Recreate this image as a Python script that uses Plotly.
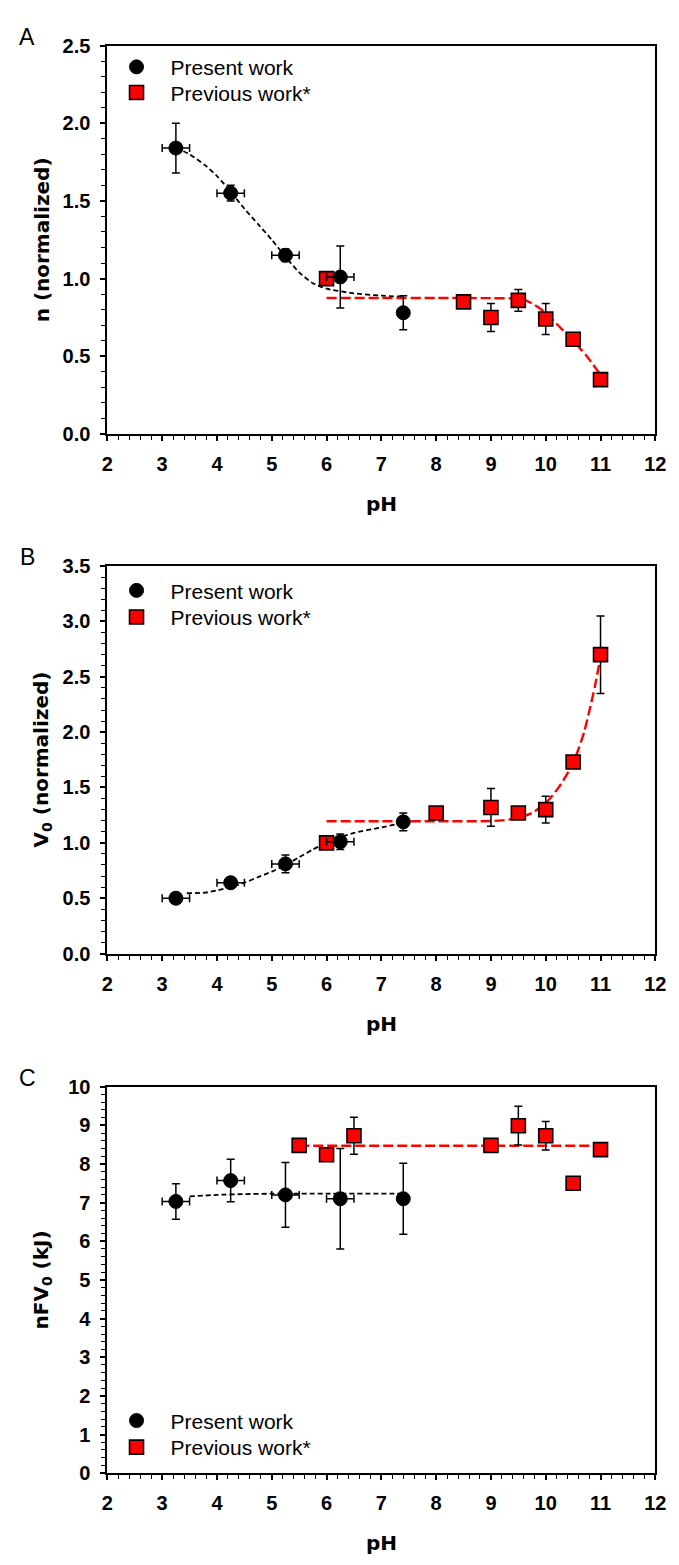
import plotly.graph_objects as go

W, H = 679, 1565

# ---------------- data ----------------
# Panel A : n (normalized)
A_present_ph = [3.25, 4.25, 5.25, 6.25, 7.40]
A_present_n = [1.84, 1.55, 1.15, 1.01, 0.78]
A_present_nerr = [0.16, 0.05, 0.04, 0.20, 0.11]
A_present_pherr = [0.25, 0.25, 0.25, 0.25, 0.0]
A_prev_ph = [6.0, 8.5, 9.0, 9.5, 10.0, 10.5, 11.0]
A_prev_n = [1.00, 0.85, 0.75, 0.86, 0.74, 0.61, 0.35]
A_prev_nerr = [0.0, 0.04, 0.09, 0.07, 0.10, 0.0, 0.0]
A_fit_present_ph = [3.25, 3.5, 3.78, 4.0, 4.27, 4.5, 4.75, 5.0, 5.25, 5.5, 5.75, 6.0, 6.5, 7.0, 7.4]
A_fit_present_n = [1.84, 1.80, 1.73, 1.66, 1.55, 1.45, 1.35, 1.25, 1.14, 1.04, 0.97, 0.935, 0.905, 0.89, 0.883]
A_fit_prev_ph = [6.0, 7.0, 8.0, 9.0, 9.4, 9.6, 9.8, 10.0, 10.25, 10.5, 10.75, 11.0]
A_fit_prev_n = [0.875, 0.875, 0.875, 0.874, 0.872, 0.865, 0.83, 0.78, 0.69, 0.60, 0.50, 0.38]

# Panel B : V0 (normalized)
B_present_ph = [3.25, 4.25, 5.25, 6.25, 7.40]
B_present_v = [0.50, 0.64, 0.81, 1.01, 1.19]
B_present_verr = [0.02, 0.04, 0.08, 0.07, 0.08]
B_present_pherr = [0.25, 0.25, 0.25, 0.25, 0.0]
B_prev_ph = [6.0, 8.0, 9.0, 9.5, 10.0, 10.5, 11.0]
B_prev_v = [1.00, 1.27, 1.32, 1.27, 1.30, 1.73, 2.70]
B_prev_verr = [0.0, 0.0, 0.17, 0.0, 0.12, 0.04, 0.35]
B_fit_present_ph = [3.45, 3.78, 4.0, 4.25, 4.5, 4.75, 5.0, 5.25, 5.5, 5.75, 6.0, 6.25, 6.5, 7.0, 7.4]
B_fit_present_v = [0.545, 0.55, 0.57, 0.60, 0.64, 0.69, 0.74, 0.80, 0.87, 0.94, 1.0, 1.05, 1.09, 1.14, 1.18]
B_fit_prev_ph = [6.0, 7.0, 8.0, 9.0, 9.25, 9.5, 9.75, 10.0, 10.25, 10.5, 10.6, 10.7, 10.8, 10.9, 11.0]
B_fit_prev_v = [1.195, 1.195, 1.195, 1.197, 1.205, 1.225, 1.27, 1.36, 1.51, 1.72, 1.85, 2.0, 2.2, 2.42, 2.68]

# Panel C : nFV0 (kJ)
C_present_ph = [3.25, 4.25, 5.25, 6.25, 7.40]
C_present_e = [7.03, 7.57, 7.20, 7.10, 7.10]
C_present_eerr = [0.46, 0.55, 0.84, 1.30, 0.92]
C_present_pherr = [0.25, 0.25, 0.25, 0.25, 0.0]
C_prev_ph = [5.5, 6.0, 6.5, 9.0, 9.5, 10.0, 10.5, 11.0]
C_prev_e = [8.48, 8.24, 8.73, 8.48, 8.99, 8.73, 7.50, 8.37]
C_prev_eerr = [0.0, 0.0, 0.48, 0.0, 0.50, 0.37, 0.0, 0.0]
C_fit_present_ph = [3.5, 4.0, 4.5, 5.0, 6.0, 7.4]
C_fit_present_e = [7.16, 7.20, 7.22, 7.23, 7.23, 7.23]
C_fit_prev_ph = [5.5, 11.0]
C_fit_prev_e = [8.47, 8.47]

x_ticks = [2, 3, 4, 5, 6, 7, 8, 9, 10, 11, 12]
panel_labels = ["A", "B", "C"]
y_titles = ["n (normalized)", "V<sub>0</sub> (normalized)", "nFV<sub>0</sub> (kJ)"]
x_title = "pH"
legend_names = ["Present work", "Previous work*"]

# ---------------- layout geometry (px) ----------------
X0, X1 = 104, 666
panels = [
    dict(top=35, bot=429, yr=[0, 2.5], dtick=0.5, minor=0.1, fmt=".1f",
         letter_y=26, leg_y=(57, 83)),
    dict(top=563, bot=956, yr=[0, 3.5], dtick=0.5, minor=0.1, fmt=".1f",
         letter_y=554, leg_y=(588, 615)),
    dict(top=1091, bot=1483, yr=[0, 10], dtick=1, minor=0.2, fmt="d",
         letter_y=1082, leg_y=(1430, 1457)),
]

def px(x):
    return x / W

def py(y):
    return 1 - y / H

TICKFONT = dict(family="Liberation Sans, Arial, sans-serif", size=20, color="black", weight="bold")
TITLEFONT = dict(family="DejaVu Sans, Verdana, sans-serif", size=20, color="black", weight="bold")
LEGFONT = dict(family="Liberation Sans, Arial, sans-serif", size=21, color="black")

fig = go.Figure()

data = [
    (A_present_ph, A_present_n, A_present_nerr, A_present_pherr, A_prev_ph, A_prev_n, A_prev_nerr,
     A_fit_present_ph, A_fit_present_n, A_fit_prev_ph, A_fit_prev_n),
    (B_present_ph, B_present_v, B_present_verr, B_present_pherr, B_prev_ph, B_prev_v, B_prev_verr,
     B_fit_present_ph, B_fit_present_v, B_fit_prev_ph, B_fit_prev_v),
    (C_present_ph, C_present_e, C_present_eerr, C_present_pherr, C_prev_ph, C_prev_e, C_prev_eerr,
     C_fit_present_ph, C_fit_present_e, C_fit_prev_ph, C_fit_prev_e),
]

def leg_id(n):
    return "legend" if n == 1 else f"legend{n}"

for i, (pph, pv, pverr, ppherr, qph, qv, qverr, fpx, fpy, fqx, fqy) in enumerate(data):
    xa = "x" if i == 0 else f"x{i+1}"
    ya = "y" if i == 0 else f"y{i+1}"
    # fit lines
    fig.add_trace(go.Scatter(x=fpx, y=fpy, mode="lines", xaxis=xa, yaxis=ya, showlegend=False,
                             line=dict(color="black", width=1.8, dash="5px,3px", shape="spline", smoothing=0.6),
                             hoverinfo="skip"))
    fig.add_trace(go.Scatter(x=fqx, y=fqy, mode="lines", xaxis=xa, yaxis=ya, showlegend=False,
                             line=dict(color="#ff0000", width=2.4, dash="10px,4px", shape="spline", smoothing=0.6),
                             hoverinfo="skip"))
    # previous work (red squares)
    fig.add_trace(go.Scatter(x=qph, y=qv, mode="markers", xaxis=xa, yaxis=ya,
                             name=legend_names[1], legend=leg_id(2 * i + 2),
                             marker=dict(symbol="square", size=14, color="#ff0000",
                                         line=dict(color="black", width=1.6)),
                             error_y=dict(type="data", array=qverr, visible=True, color="black",
                                          thickness=1.5, width=4)))
    # present work (black circles)
    fig.add_trace(go.Scatter(x=pph, y=pv, mode="markers", xaxis=xa, yaxis=ya,
                             name=legend_names[0], legend=leg_id(2 * i + 1),
                             marker=dict(symbol="circle", size=14, color="black",
                                         line=dict(color="black", width=1)),
                             error_y=dict(type="data", array=pverr, visible=True, color="black",
                                          thickness=1.5, width=4),
                             error_x=dict(type="data", array=ppherr, visible=True, color="black",
                                          thickness=1.5, width=4)))

layout = dict(
    width=W, height=H,
    margin=dict(l=0, r=0, t=0, b=0),
    paper_bgcolor="white", plot_bgcolor="white",
    annotations=[],
)

leg_common = dict(xanchor="left", yanchor="middle", bgcolor="rgba(0,0,0,0)", borderwidth=0,
                  font=LEGFONT, tracegroupgap=0, itemwidth=58)

for i, p in enumerate(panels):
    xk = "xaxis" if i == 0 else f"xaxis{i+1}"
    yk = "yaxis" if i == 0 else f"yaxis{i+1}"
    ya = "y" if i == 0 else f"y{i+1}"
    xa = "x" if i == 0 else f"x{i+1}"
    layout[xk] = dict(
        domain=[px(X0), px(X1)], anchor=ya, range=[2, 12],
        tickmode="array", tickvals=x_ticks, ticktext=[str(t) for t in x_ticks],
        ticks="outside", ticklen=5, tickwidth=1.5, tickcolor="black",
        showline=True, linecolor="black", linewidth=2, mirror=True,
        showgrid=False, zeroline=False, tickfont=TICKFONT, ticklabelstandoff=6,
        minor=dict(dtick=0.2, ticks="outside", ticklen=4, tickwidth=1.2, tickcolor="black", showgrid=False),
    )
    layout[yk] = dict(
        domain=[py(p["bot"]), py(p["top"])], anchor=xa, range=p["yr"],
        dtick=p["dtick"], tick0=0, tickformat=p["fmt"],
        ticks="outside", ticklen=5, tickwidth=1.5, tickcolor="black",
        showline=True, linecolor="black", linewidth=2, mirror=True,
        showgrid=False, zeroline=False, tickfont=TICKFONT, ticklabelstandoff=6,
        minor=dict(dtick=p["minor"], ticks="outside", ticklen=4, tickwidth=1.2, tickcolor="black", showgrid=False),
    )
    # panel letter
    layout["annotations"].append(dict(
        text=panel_labels[i], x=px(22), y=py(p["letter_y"]), xref="paper", yref="paper",
        showarrow=False, xanchor="center", yanchor="middle",
        font=dict(family="Liberation Sans, Arial, sans-serif", size=23, color="black")))
    # y title
    layout["annotations"].append(dict(
        text=y_titles[i], x=px(36.5), y=py((p["top"] + p["bot"]) / 2), xref="paper", yref="paper",
        showarrow=False, xanchor="center", yanchor="middle", textangle=-90, font=TITLEFONT))
    # x title
    layout["annotations"].append(dict(
        text=x_title, x=px((X0 + X1) / 2), y=py(p["bot"] + 71), xref="paper", yref="paper",
        showarrow=False, xanchor="center", yanchor="middle", font=TITLEFONT))
    # legends: one item each, placed exactly
    layout[leg_id(2 * i + 1)] = dict(x=px(99), y=py(p["leg_y"][0]), **leg_common)
    layout[leg_id(2 * i + 2)] = dict(x=px(99), y=py(p["leg_y"][1]), **leg_common)

fig.update_layout(**layout)
fig.write_html("out.html")
